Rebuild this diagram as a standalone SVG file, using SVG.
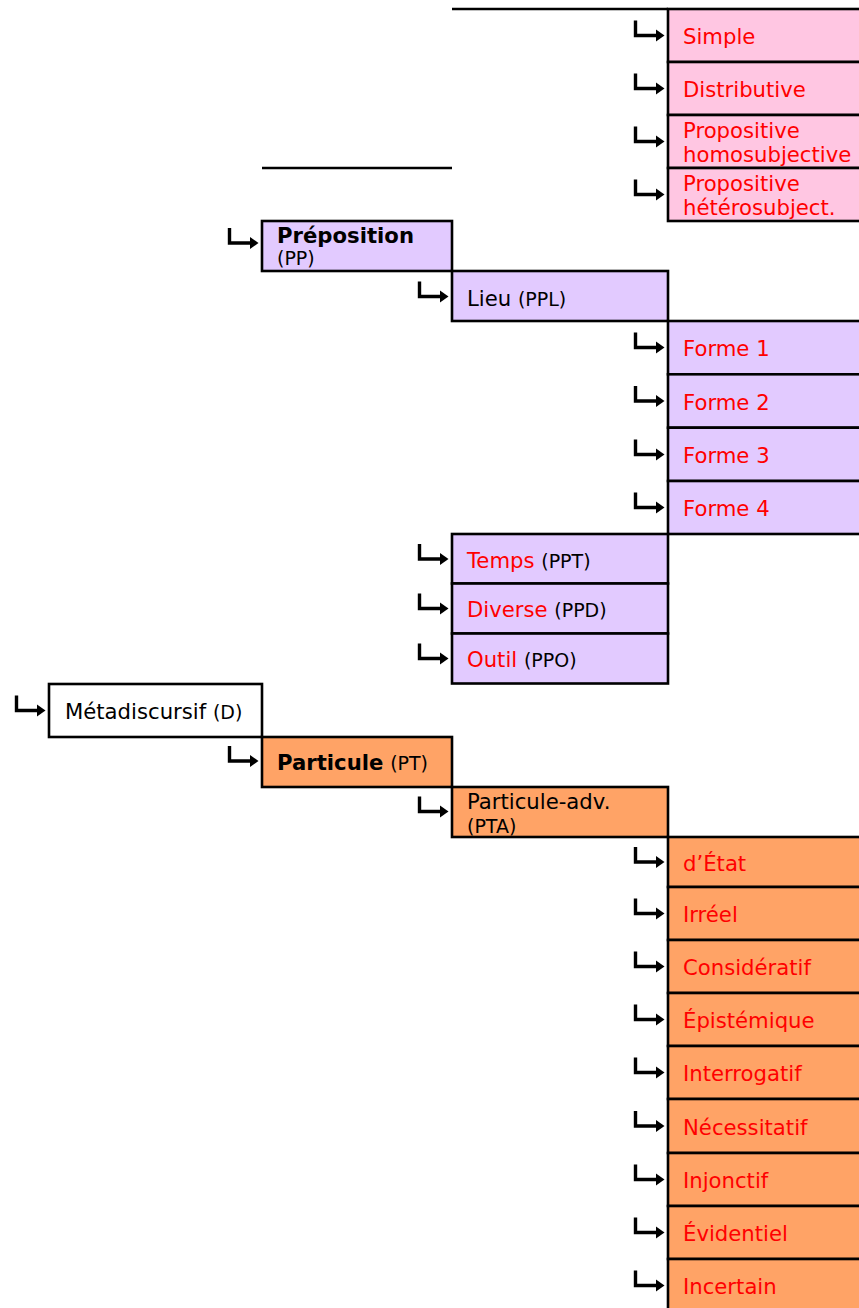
<svg xmlns="http://www.w3.org/2000/svg" width="859" height="1308" viewBox="0 0 859 1308">
<style>
text{font-family:"DejaVu Sans","Verdana",sans-serif;font-size:21.2px;fill:#000}
.r{fill:#FF0000}
.s{font-size:19px;fill:#000}
.b{font-weight:bold}
.box{stroke:#000;stroke-width:2.6}
.pk{fill:#FFC6E2}
.lv{fill:#E2CAFF}
.or{fill:#FFA366}
.wh{fill:#FFFFFF}
.ln{stroke:#000;stroke-width:2.6;fill:none}
.ar{stroke:#000;stroke-width:3.4;fill:none}
.ah{fill:#000}
</style>
<defs>
<g id="arr">
<path class="ar" d="M-32.5,-15 V0 H-10"/>
<polygon class="ah" points="-12,-6 -3.5,0 -12,6"/>
</g>
</defs>

<g id="connectors">
<line class="ln" x1="452" y1="9" x2="668" y2="9"/>
<line class="ln" x1="262" y1="168" x2="452" y2="168"/>
<use href="#arr" x="668" y="35.5"/>
<use href="#arr" x="668" y="88.5"/>
<use href="#arr" x="668" y="141.5"/>
<use href="#arr" x="668" y="194.5"/>
<use href="#arr" x="262" y="243"/>
<use href="#arr" x="452" y="296.5"/>
<use href="#arr" x="668" y="347.5"/>
<use href="#arr" x="668" y="401"/>
<use href="#arr" x="668" y="454.5"/>
<use href="#arr" x="668" y="507.5"/>
<use href="#arr" x="452" y="559"/>
<use href="#arr" x="452" y="608.5"/>
<use href="#arr" x="452" y="658.5"/>
<use href="#arr" x="49" y="710.5"/>
<use href="#arr" x="262" y="761"/>
<use href="#arr" x="452" y="811.5"/>
<use href="#arr" x="668" y="862"/>
<use href="#arr" x="668" y="913.5"/>
<use href="#arr" x="668" y="966.5"/>
<use href="#arr" x="668" y="1019.5"/>
<use href="#arr" x="668" y="1072.5"/>
<use href="#arr" x="668" y="1126"/>
<use href="#arr" x="668" y="1179.5"/>
<use href="#arr" x="668" y="1232.5"/>
<use href="#arr" x="668" y="1285.5"/>
</g>

<g id="n-simple"><rect class="box pk" x="668" y="9" width="195" height="53"/><text class="r" x="683" y="44">Simple</text></g>
<g id="n-distributive"><rect class="box pk" x="668" y="62" width="195" height="53"/><text class="r" x="683" y="97">Distributive</text></g>
<g id="n-prop-homo"><rect class="box pk" x="668" y="115" width="195" height="53"/><text class="r" x="683" y="137.5">Propositive</text><text class="r" x="683" y="162">homosubjective</text></g>
<g id="n-prop-hetero"><rect class="box pk" x="668" y="168" width="195" height="53"/><text class="r" x="683" y="190.5">Propositive</text><text class="r" x="683" y="215">hétérosubject.</text></g>

<g id="n-preposition"><rect class="box lv" x="262" y="221" width="190" height="50"/><text class="b" x="277" y="242.5">Préposition</text><text class="s" x="277" y="265">(PP)</text></g>
<g id="n-lieu"><rect class="box lv" x="452" y="271" width="216" height="50"/><text x="467" y="306">Lieu <tspan class="s">(PPL)</tspan></text></g>
<g id="n-forme1"><rect class="box lv" x="668" y="321" width="195" height="53.3"/><text class="r" x="683" y="356">Forme 1</text></g>
<g id="n-forme2"><rect class="box lv" x="668" y="374.3" width="195" height="53.4"/><text class="r" x="683" y="409.5">Forme 2</text></g>
<g id="n-forme3"><rect class="box lv" x="668" y="427.7" width="195" height="53.3"/><text class="r" x="683" y="463">Forme 3</text></g>
<g id="n-forme4"><rect class="box lv" x="668" y="481" width="195" height="53"/><text class="r" x="683" y="516">Forme 4</text></g>
<g id="n-temps"><rect class="box lv" x="452" y="534" width="216" height="49.5"/><text class="r" x="467" y="567.5">Temps <tspan class="s">(PPT)</tspan></text></g>
<g id="n-diverse"><rect class="box lv" x="452" y="583.5" width="216" height="50"/><text class="r" x="467" y="617">Diverse <tspan class="s">(PPD)</tspan></text></g>
<g id="n-outil"><rect class="box lv" x="452" y="633.5" width="216" height="50"/><text class="r" x="467" y="667">Outil <tspan class="s">(PPO)</tspan></text></g>

<g id="n-metadiscursif"><rect class="box wh" x="49" y="684" width="213" height="53"/><text x="65" y="719">Métadiscursif <tspan class="s">(D)</tspan></text></g>
<g id="n-particule"><rect class="box or" x="262" y="737" width="190" height="50"/><text x="277" y="770"><tspan class="b">Particule</tspan> <tspan class="s">(PT)</tspan></text></g>
<g id="n-particule-adv"><rect class="box or" x="452" y="787" width="216" height="50"/><text x="467" y="808.5">Particule-adv.</text><text class="s" x="467" y="832.5">(PTA)</text></g>
<g id="n-etat"><rect class="box or" x="668" y="837" width="195" height="50"/><text class="r" x="683" y="870.5">d’État</text></g>
<g id="n-irreel"><rect class="box or" x="668" y="887" width="195" height="53"/><text class="r" x="683" y="922">Irréel</text></g>
<g id="n-consideratif"><rect class="box or" x="668" y="940" width="195" height="53"/><text class="r" x="683" y="975">Considératif</text></g>
<g id="n-epistemique"><rect class="box or" x="668" y="993" width="195" height="53"/><text class="r" x="683" y="1028">Épistémique</text></g>
<g id="n-interrogatif"><rect class="box or" x="668" y="1046" width="195" height="53"/><text class="r" x="683" y="1081">Interrogatif</text></g>
<g id="n-necessitatif"><rect class="box or" x="668" y="1099" width="195" height="54"/><text class="r" x="683" y="1134.5">Nécessitatif</text></g>
<g id="n-injonctif"><rect class="box or" x="668" y="1153" width="195" height="53"/><text class="r" x="683" y="1188">Injonctif</text></g>
<g id="n-evidentiel"><rect class="box or" x="668" y="1206" width="195" height="53"/><text class="r" x="683" y="1241">Évidentiel</text></g>
<g id="n-incertain"><rect class="box or" x="668" y="1259" width="195" height="60"/><text class="r" x="683" y="1294">Incertain</text></g>
</svg>
